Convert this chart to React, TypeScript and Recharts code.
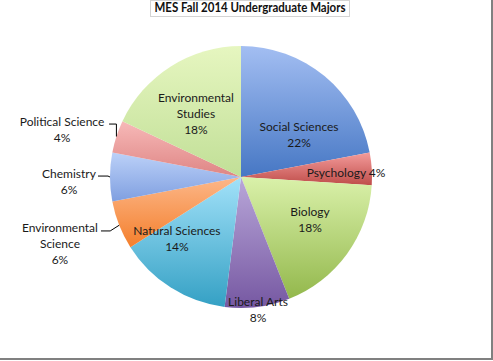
import React from "react";
import { PieChart, Pie, Cell } from "recharts";

const categories = [
  "Social Sciences",
  "Psychology",
  "Biology",
  "Liberal Arts",
  "Natural Sciences",
  "Environmental Science",
  "Chemistry",
  "Political Science",
  "Environmental Studies",
];
const shares = [22, 4, 18, 8, 14, 6, 6, 4, 18];
const titleText = "MES Fall 2014 Undergraduate Majors";

// gradient colours per slice (top, bottom)
const gradTop = ["#a3bef2", "#f49c9b", "#daf1aa", "#b9a7d9", "#a2e1f9", "#fcb789", "#bcd1f8", "#f7b9b8", "#e6f6c0"];
const gradBottom = ["#4677c4", "#bf4d4a", "#93b84c", "#7658a2", "#34a0c4", "#f47f2c", "#7f9fe0", "#de8584", "#c1df97"];

// label layout: centre offset as fractions of the radius, line mode, leader info
type Layout = { fx: number; fy: number; mode: "one" | "two" | "words"; leader?: { halfW: number; elbow: number } };
const labelLayout: Layout[] = [
  { fx: 0.443, fy: -0.328, mode: "two" },
  { fx: 0.802, fy: -0.031, mode: "one" },
  { fx: 0.527, fy: 0.321, mode: "two" },
  { fx: 0.13, fy: 1.011, mode: "two" },
  { fx: -0.489, fy: 0.473, mode: "two" },
  { fx: -1.382, fy: 0.511, mode: "words", leader: { halfW: 41, elbow: -9 } },
  { fx: -1.313, fy: 0.031, mode: "two", leader: { halfW: 29, elbow: -2 } },
  { fx: -1.366, fy: -0.366, mode: "two", leader: { halfW: 47, elbow: 0 } },
  { fx: -0.344, fy: -0.481, mode: "words" },
];

const data = categories.map((name, i) => ({ name, value: shares[i] }));

const FONT = "Lato, 'Open Sans', sans-serif";
const RAD = Math.PI / 180;

const renderLabel = (props: any) => {
  const { cx, cy, outerRadius, midAngle, index, name, percent } = props;
  const lay = labelLayout[index];
  const pct = `${Math.round(percent * 100)}%`;
  let lines: string[];
  if (lay.mode === "one") lines = [`${name} ${pct}`];
  else if (lay.mode === "two") lines = [name, pct];
  else lines = [...name.split(" "), pct];
  const x = cx + lay.fx * outerRadius;
  const y = cy + lay.fy * outerRadius;
  const lh = 16;
  const n = lines.length;
  const firstY = y - ((n - 1) * lh) / 2;
  let leader = null;
  if (lay.leader) {
    const ex = cx + outerRadius * Math.cos(-midAngle * RAD);
    const ey = cy + outerRadius * Math.sin(-midAngle * RAD);
    const ly = firstY + 3;
    const pts = `${x + lay.leader.halfW},${ly} ${ex + lay.leader.elbow},${ly} ${ex},${ey}`;
    leader = <polyline points={pts} fill="none" stroke="#000" strokeWidth={1} />;
  }
  return (
    <g key={`lab-${index}`}>
      {leader}
      {lines.map((t, i) => (
        <text
          key={i}
          x={x}
          y={firstY + i * lh}
          textAnchor="middle"
          dominantBaseline="central"
          fontFamily={FONT}
          fontSize={12}
          fill="#1a1a1a"
        >
          {t}
        </text>
      ))}
    </g>
  );
};

export default function App() {
  return (
    <div style={{ position: "absolute", left: 0, top: 0, width: 493, height: 361, background: "#fff" }}>
      <PieChart width={493} height={361} margin={{ top: 0, right: 0, bottom: 0, left: 0 }}>
        <defs>
          {gradTop.map((c, i) => (
            <linearGradient key={i} id={`g${i}`} x1="0" y1="0" x2="0" y2="1">
              <stop offset="0%" stopColor={c} />
              <stop offset="100%" stopColor={gradBottom[i]} />
            </linearGradient>
          ))}
        </defs>
        <rect x={150.5} y={0.5} width={199} height={16} fill="#fff" stroke="#d4d4d4" />
        <text
          x={250}
          y={12}
          textAnchor="middle"
          fontFamily={FONT}
          fontWeight="bold"
          fontSize={12.5}
          fill="#111"
          textLength={191}
          lengthAdjust="spacingAndGlyphs"
        >
          {titleText}
        </text>
        <line x1={492} y1={0} x2={492} y2={360} stroke="#808080" strokeWidth={2} />
        <line x1={0} y1={359} x2={493} y2={359} stroke="#808080" strokeWidth={2} />
        <Pie
          data={data}
          dataKey="value"
          nameKey="name"
          cx={241}
          cy={177}
          outerRadius={131}
          startAngle={90}
          endAngle={-270}
          stroke="none"
          labelLine={false}
          label={renderLabel}
          isAnimationActive={false}
        >
          {data.map((d, i) => (
            <Cell key={d.name} fill={`url(#g${i})`} />
          ))}
        </Pie>
      </PieChart>
    </div>
  );
}
